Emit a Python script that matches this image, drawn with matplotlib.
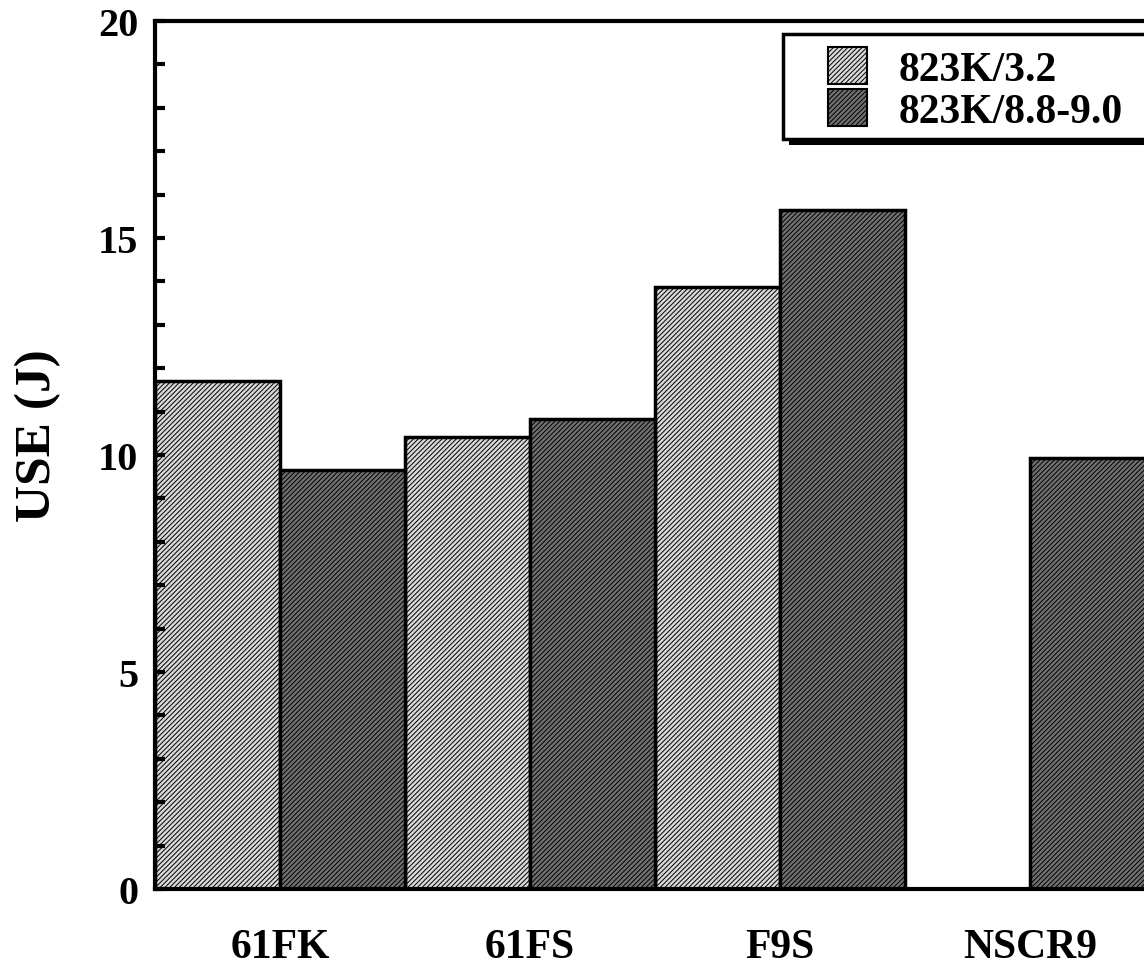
import matplotlib
matplotlib.use("Agg")
import matplotlib.pyplot as plt
from matplotlib.patches import Rectangle, Patch
from matplotlib.ticker import MultipleLocator
import numpy as np

# Upper-shelf energy by alloy and aging condition
categories = ["61FK", "61FS", "F9S", "NSCR9"]
series_names = ["823K/3.2", "823K/8.8-9.0"]
use_short = [11.7, 10.42, 13.88, np.nan]      # 823K/3.2
use_long = [9.65, 10.83, 15.65, 9.93]        # 823K/8.8-9.0
y_ticks = [0, 5, 10, 15, 20]

W, H, DPI = 1144, 970, 100
plt.rcParams["font.family"] = ["Liberation Serif", "DejaVu Serif"]
plt.rcParams["font.weight"] = "bold"
plt.rcParams["hatch.linewidth"] = 0.7

fig = plt.figure(figsize=(W / DPI, H / DPI), dpi=DPI)
fig.patch.set_facecolor("white")

# axes in pixel terms: left 155, top 22, bottom 890, right edge runs off the page
L, T, B, R = 155, 22, 890, 1155
ax = fig.add_axes([L / W, (H - B) / H, (R - L) / W, (B - T) / H])

x = np.arange(len(categories))
bw = 0.5
light_style = dict(facecolor="#d8d8d8", edgecolor="black", hatch="///////", linewidth=2.5)
dark_style = dict(facecolor="#707070", edgecolor="black", hatch="///////", linewidth=2.5)

ax.bar(x - bw / 2, use_short, width=bw, **light_style)
ax.bar(x + bw / 2, use_long, width=bw, **dark_style)

ax.set_xlim(-0.5, 3.5)
ax.set_ylim(0, 20)

for side in ["left", "bottom", "top"]:
    ax.spines[side].set_linewidth(3)
ax.spines["right"].set_visible(False)

ax.set_yticks(y_ticks)
ax.set_yticklabels([str(t) for t in y_ticks], fontsize=29, fontweight="bold")
ax.yaxis.set_minor_locator(MultipleLocator(1))
ax.tick_params(axis="y", which="both", direction="in", length=7, width=3, pad=12,
               right=False)
ax.set_xticks(x)
ax.set_xticklabels(categories, fontsize=30, fontweight="bold")
ax.tick_params(axis="x", which="both", length=0, pad=28, top=False)

fig.text(38 / W, 1 - 436 / H, "USE (J)", rotation=90, ha="center", va="center",
         fontsize=37, fontweight="bold")

# legend frame with drop shadow
bx0, by0, bx1, by1 = 783, 35, 1170, 140
shadow = Rectangle(((bx0 + 6) / W, 1 - (by1 + 6) / H), (bx1 - bx0) / W, (by1 - by0) / H,
                   transform=fig.transFigure, facecolor="black", edgecolor="black",
                   linewidth=0, zorder=5)
frame = Rectangle((bx0 / W, 1 - by1 / H), (bx1 - bx0) / W, (by1 - by0) / H,
                  transform=fig.transFigure, facecolor="white", edgecolor="black",
                  linewidth=2.5, zorder=6)
fig.add_artist(shadow)
fig.add_artist(frame)

handles = [Patch(**{**light_style, "linewidth": 1.5}), Patch(**{**dark_style, "linewidth": 1.5})]
leg = fig.legend(handles, series_names, loc="upper left",
                 bbox_to_anchor=(828 / W, 1 - 48 / H), bbox_transform=fig.transFigure,
                 frameon=False, prop={"weight": "bold", "size": 30},
                 handlelength=0.94, handleheight=1.0, handletextpad=0.75,
                 labelspacing=0.0, borderpad=0, borderaxespad=0)
leg.set_zorder(7)

fig.savefig("out.png", dpi=DPI)
